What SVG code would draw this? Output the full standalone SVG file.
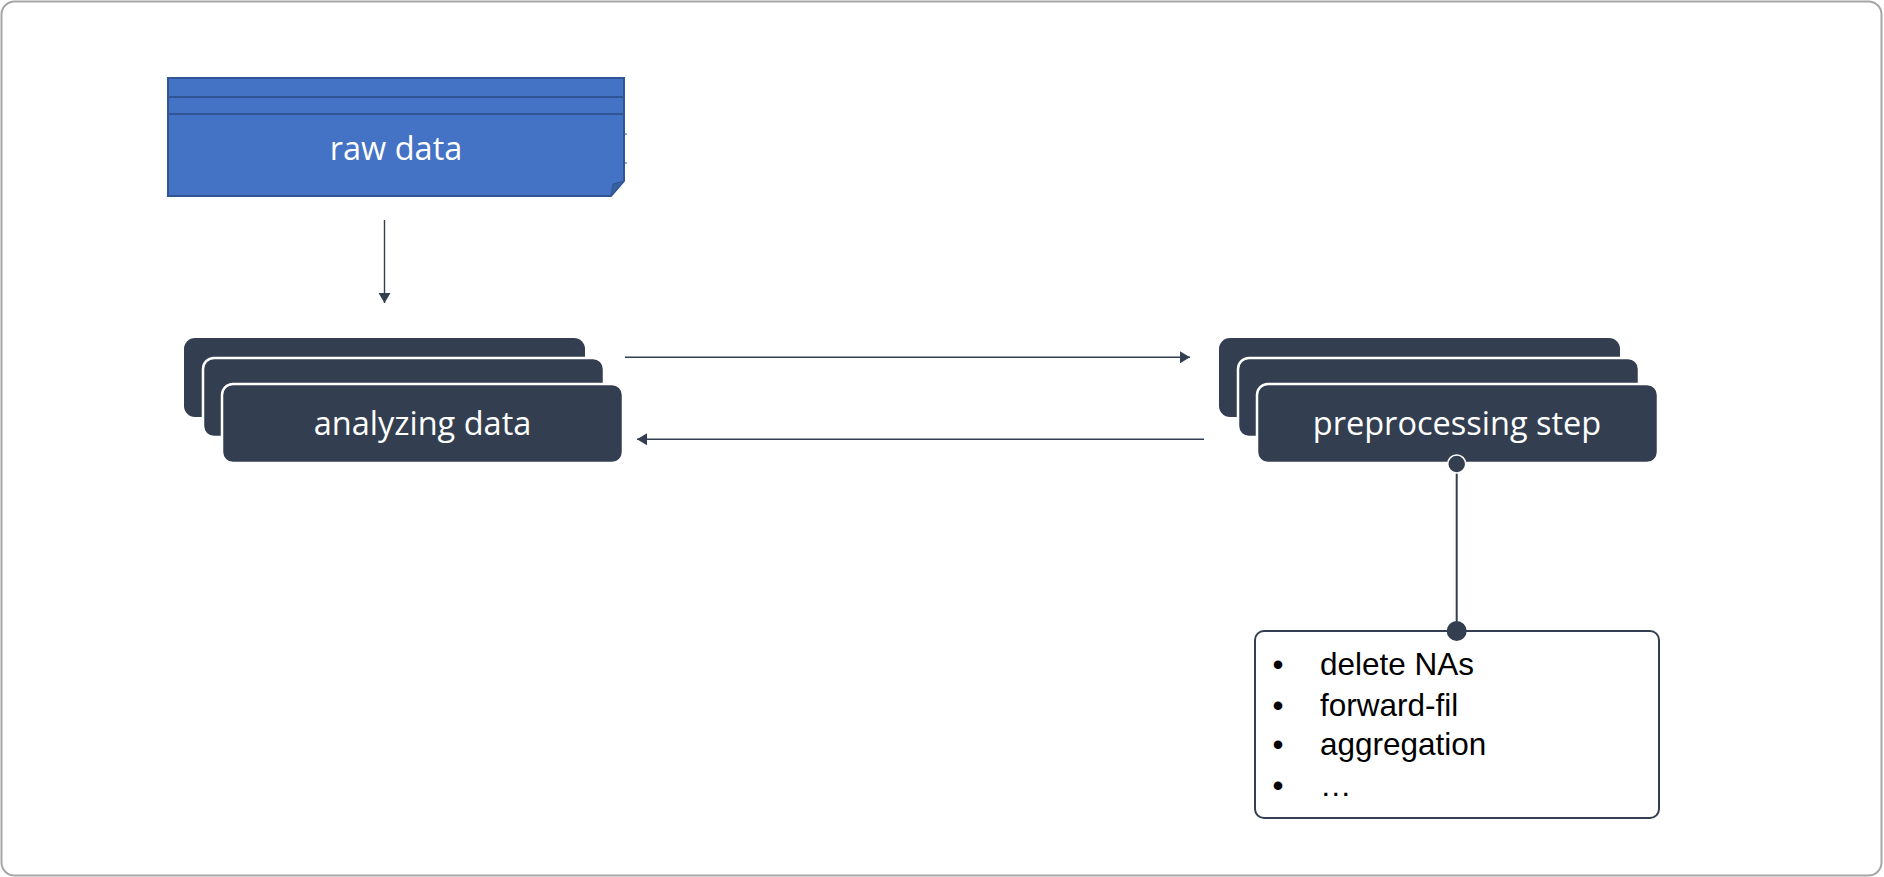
<svg xmlns="http://www.w3.org/2000/svg" width="1884" height="877" viewBox="0 0 1884 877">
<style>
.frame{fill:#ffffff;stroke:#a6a6a6;stroke-width:2}
.card{fill:#333f50}
.cardw{fill:#333f50;stroke:#ffffff;stroke-width:2.5}
.lbl{font-family:"Open Sans","Noto Sans",sans-serif;font-size:32.5px;fill:#ffffff;text-anchor:middle}
.conn{stroke:#333f50;stroke-width:1.4;fill:none}
.list{font-family:"Liberation Sans",Arial,sans-serif;font-size:31.5px;fill:#000000}
</style>
<defs>
<marker id="ah" viewBox="0 0 10 12" refX="10" refY="6" markerWidth="10" markerHeight="12" markerUnits="userSpaceOnUse" orient="auto">
<path d="M0,0 L10,6 L0,12 Z" fill="#333f50"/>
</marker>
</defs>
<rect class="frame" x="1.5" y="1.5" width="1880" height="874" rx="13"/>

<g id="raw-data">
<path d="M168,78 H624 V181 L611,196 H168 Z" fill="#4472c4" stroke="#2f5597" stroke-width="2"/>
<line x1="168" y1="97" x2="624" y2="97" stroke="#2f5597" stroke-width="2"/>
<line x1="168" y1="114" x2="624" y2="114" stroke="#2f5597" stroke-width="2"/>
<path d="M611,196 L624,181 L613,184 Z" fill="#36609f" stroke="#2f5597" stroke-width="1"/>
<line x1="624" y1="134" x2="627" y2="134" stroke="#2f5597" stroke-width="1"/>
<line x1="624" y1="163" x2="627" y2="163" stroke="#2f5597" stroke-width="1"/>
<text class="lbl" x="396" y="160">raw data</text>
</g>

<g id="analyzing-data">
<rect class="card" x="184" y="338" width="401" height="79" rx="11"/>
<rect class="cardw" x="203" y="358" width="401" height="79" rx="11"/>
<rect class="cardw" x="222" y="384" width="401" height="79" rx="11"/>
<text class="lbl" x="422.5" y="435">analyzing data</text>
</g>

<g id="preprocessing-step">
<rect class="card" x="1219" y="338" width="401" height="79" rx="11"/>
<rect class="cardw" x="1238" y="358" width="401" height="79" rx="11"/>
<rect class="cardw" x="1257" y="384" width="401" height="79" rx="11"/>
<text class="lbl" x="1457" y="435">preprocessing step</text>
</g>

<g id="steps-list">
<rect x="1255" y="631" width="404" height="187" rx="9" fill="#ffffff" stroke="#333f50" stroke-width="2"/>
<text class="list" x="1278" y="675" text-anchor="middle">•</text>
<text class="list" x="1278" y="716" text-anchor="middle">•</text>
<text class="list" x="1278" y="755" text-anchor="middle">•</text>
<text class="list" x="1278" y="796" text-anchor="middle">•</text>
<text class="list" x="1320" y="675">delete NAs</text>
<text class="list" x="1320" y="716">forward-fil</text>
<text class="list" x="1320" y="755">aggregation</text>
<text class="list" x="1320" y="796">…</text>
</g>

<g id="connectors">
<line class="conn" x1="384.5" y1="220" x2="384.5" y2="303" marker-end="url(#ah)"/>
<line class="conn" x1="625" y1="357.3" x2="1190" y2="357.3" marker-end="url(#ah)"/>
<line class="conn" x1="1204" y1="439.3" x2="637" y2="439.3" marker-end="url(#ah)"/>
<line x1="1456.7" y1="464" x2="1456.7" y2="631" stroke="#333f50" stroke-width="2"/>
<circle cx="1456.7" cy="464" r="9" fill="#333f50" stroke="#ffffff" stroke-width="1.5"/>
<circle cx="1456.7" cy="631" r="10" fill="#333f50"/>
</g>
</svg>
